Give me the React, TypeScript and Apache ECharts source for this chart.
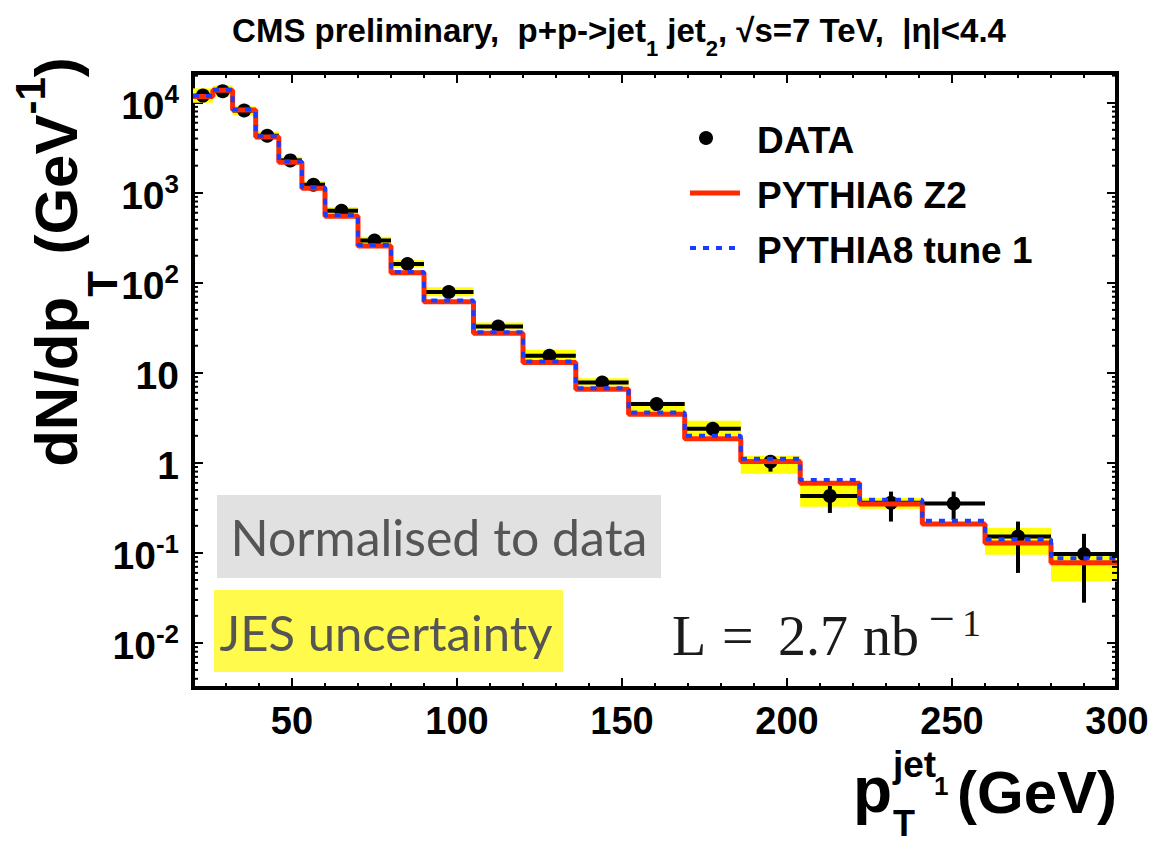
import React, { useEffect, useRef } from "react";
import * as echarts from "echarts";

// ---- data ----
const binEdges = [20, 26, 32, 39, 46, 53, 60, 70, 80, 90, 105, 120, 136, 152, 169, 186, 204, 222, 241, 260, 280, 300];
const dataValues = [12000, 13400, 8200, 4300, 2290, 1230, 630, 295, 162, 79, 32.7, 15.5, 7.8, 4.5, 2.39, 1.03, 0.43, 0.36, 0.355, 0.152, 0.097];
const dataErrLow = [11900, 13300, 8150, 4270, 2270, 1215, 620, 290, 158, 77, 31.5, 14.9, 7.4, 4.2, 2.2, 0.8, 0.278, 0.223, 0.232, 0.06, 0.028];
const dataErrHigh = [12100, 13500, 8250, 4330, 2310, 1245, 640, 300, 166, 81, 33.9, 16.1, 8.2, 4.8, 2.6, 1.22, 0.555, 0.48, 0.48, 0.223, 0.163];
const jesLow = [10000, 11750, 7240, 3890, 2090, 1120, 575, 269, 148, 70.8, 30.2, 14.0, 7.05, 3.63, 1.99, 0.757, 0.326, 0.309, 0.339, 0.0955, 0.048];
const jesHigh = [14450, 15500, 9120, 4790, 2510, 1350, 692, 324, 178, 89, 36.3, 18.1, 8.7, 4.79, 2.94, 1.197, 0.553, 0.407, 0.372, 0.19, 0.095];
const pythia6 = [11750, 13800, 8300, 4170, 2190, 1120, 550, 257, 129, 61.7, 27.5, 13.0, 6.58, 3.47, 1.85, 1.035, 0.594, 0.35, 0.209, 0.129, 0.078];
const pythia8 = [11900, 13900, 8400, 4250, 2230, 1150, 565, 263, 132, 63.5, 28.2, 13.4, 6.75, 3.62, 2.0, 1.11, 0.645, 0.39, 0.227, 0.142, 0.087];

const seriesNames = ["DATA", "PYTHIA6 Z2", "PYTHIA8 tune 1"];

const xMin = 20;
const xMax = 300;
const yMin = 0.00316;
const yMax = 21400;
const yTickExps = [-2, -1, 0, 1, 2, 3, 4];
const yTickBases = ["10", "10", "1", "10", "10", "10", "10"];
const yTickSups = ["-2", "-1", "", "", "2", "3", "4"];
const yMinorMantissas = [2, 3, 4, 5, 6, 7, 8, 9];
const yMinorDecades = [-3, -2, -1, 0, 1, 2, 3, 4];

const FONT = "'Liberation Sans', Arial, Helvetica, sans-serif";
const SERIF = "'Liberation Serif', 'DejaVu Serif', serif";
const HUMAN = "Lato, 'Open Sans', sans-serif";
const RED = "#ff2a00";
const BLUE = "#1a3cff";

let measureCtx: CanvasRenderingContext2D | null = null;
function measure(text: string, size: number, family: string, weight: string) {
  if (!measureCtx) measureCtx = document.createElement("canvas").getContext("2d");
  if (!measureCtx) return text.length * size * 0.55;
  measureCtx.font = `${weight} ${size}px ${family}`;
  return measureCtx.measureText(text).width;
}

type Seg = { t: string; size: number; dy: number; gap?: boolean };

// lay out a run of segments on a common baseline (baseY), starting at x0
function layoutRun(segs: Seg[], family: string, weight: string, x0: number, baseY: number) {
  const els: any[] = [];
  let x = x0;
  segs.forEach((s) => {
    const w = measure(s.t, s.size, family, weight);
    if (!s.gap) {
      els.push({
        type: "text",
        x,
        y: baseY + s.dy - 0.3465 * s.size,
        style: {
          text: s.t,
          fontFamily: family,
          fontSize: s.size,
          fontWeight: weight,
          fill: "#000",
          align: "left",
          verticalAlign: "middle",
          textAlign: "left",
          textVerticalAlign: "middle",
        },
      });
    }
    x += w;
  });
  return { els, width: x - x0 };
}
function runWidth(segs: Seg[], family: string, weight: string) {
  return segs.reduce((a, s) => a + measure(s.t, s.size, family, weight), 0);
}

// a single text placed by its baseline
function baselineText(t: string, x: number, base: number, size: number, family: string, weight: string, fill: string, k = 0.3465) {
  return {
    type: "text",
    x,
    y: base - k * size,
    style: {
      text: t,
      fontFamily: family,
      fontSize: size,
      fontWeight: weight,
      fill,
      align: "left",
      verticalAlign: "middle",
      textAlign: "left",
      textVerticalAlign: "middle",
    },
  };
}

function stepPoints(vals: number[]) {
  const pts: number[][] = vals.map((v, i) => [binEdges[i], v]);
  pts.push([binEdges[binEdges.length - 1], vals[vals.length - 1]]);
  return pts;
}

function buildOption() {
  const nb = dataValues.length;
  const bandData = [];
  const errData = [];
  const markerData = [];
  for (let i = 0; i < nb; i++) {
    const c = (binEdges[i] + binEdges[i + 1]) / 2;
    bandData.push([binEdges[i], binEdges[i + 1], jesLow[i], jesHigh[i]]);
    errData.push([binEdges[i], binEdges[i + 1], c, dataValues[i], dataErrLow[i], dataErrHigh[i]]);
    markerData.push([c, dataValues[i]]);
  }
  const minorData: number[][] = [];
  yMinorDecades.forEach((d) =>
    yMinorMantissas.forEach((m) => {
      const v = m * Math.pow(10, d);
      if (v > yMin && v < yMax) minorData.push([xMin, v]);
    })
  );

  // ---- title ----
  const TS = 33;
  const SS = 22;
  const titleSegs: Seg[] = [
    { t: "CMS preliminary,", size: TS, dy: 0 },
    { t: "  ", size: TS, dy: 0, gap: true },
    { t: "p+p->jet", size: TS, dy: 0 },
    { t: "1", size: SS, dy: 14 },
    { t: " ", size: TS, dy: 0, gap: true },
    { t: "jet", size: TS, dy: 0 },
    { t: "2", size: SS, dy: 14 },
    { t: ",", size: TS, dy: 0 },
    { t: " ", size: TS, dy: 0, gap: true },
    { t: "√s=7 TeV,", size: TS, dy: 0 },
    { t: "  ", size: TS, dy: 0, gap: true },
    { t: "|η|<4.4", size: TS, dy: 0 },
  ];
  const tW = runWidth(titleSegs, FONT, "bold");
  const title = layoutRun(titleSegs, FONT, "bold", 619 - tW / 2, 42);

  // ---- y axis title (rotated) ----
  const ySegs: Seg[] = [
    { t: "dN/dp", size: 60, dy: 0 },
    { t: "T", size: 42, dy: 40 },
    { t: " ", size: 60, dy: 0, gap: true },
    { t: "(GeV", size: 60, dy: 0 },
    { t: "-1", size: 42, dy: -32 },
    { t: ")", size: 60, dy: 0 },
  ];
  const yW = runWidth(ySegs, FONT, "bold");
  const yTitle = layoutRun(ySegs, FONT, "bold", -yW / 2, 0);

  // ---- legend (drawn) ----
  const legendText = (name: string, y: number) => ({
    type: "text",
    x: 757,
    y,
    z: 20,
    style: {
      text: name,
      fontFamily: FONT,
      fontSize: 37,
      fontWeight: "bold",
      fill: "#000",
      align: "left",
      verticalAlign: "middle",
      textAlign: "left",
      textVerticalAlign: "middle",
    },
  });

  const xAxisCommon = {
    type: "value",
    min: xMin,
    max: xMax,
    splitNumber: 5,
    axisLine: { show: false },
    splitLine: { show: false },
    axisTick: { show: true, inside: true, length: 10, lineStyle: { color: "#000", width: 2 } },
    minorTick: { show: true, splitNumber: 5, length: 5, lineStyle: { color: "#000", width: 2 } },
  };
  const yAxisCommon = {
    type: "log",
    logBase: 10,
    min: yMin,
    max: yMax,
    axisLine: { show: false },
    splitLine: { show: false },
    minorTick: { show: false },
    axisTick: { show: true, inside: true, length: 10, lineStyle: { color: "#000", width: 2 } },
  };

  return {
    animation: false,
    backgroundColor: "#fff",
    textStyle: { fontFamily: FONT },
    grid: {
      left: 193,
      right: 40,
      top: 73,
      bottom: 157,
      show: true,
      borderColor: "#000",
      borderWidth: 4,
      backgroundColor: "transparent",
    },
    xAxis: [
      {
        ...xAxisCommon,
        position: "bottom",
        axisLabel: {
          show: true,
          showMinLabel: false,
          margin: 14,
          fontFamily: FONT,
          fontSize: 38,
          fontWeight: "bold",
          color: "#000",
        },
      },
      { ...xAxisCommon, position: "top", axisLabel: { show: false } },
    ],
    yAxis: [
      {
        ...yAxisCommon,
        position: "left",
        axisLabel: {
          show: true,
          showMinLabel: false,
          showMaxLabel: false,
          margin: 14,
          color: "#000",
          formatter: (v: number) => {
            const e = Math.round(Math.log10(v));
            const i = yTickExps.indexOf(e);
            if (i < 0) return "";
            return "{b|" + yTickBases[i] + "}" + (yTickSups[i] ? "{sup|" + yTickSups[i] + "}" : "");
          },
          rich: {
            b: { fontFamily: FONT, fontSize: 39, fontWeight: "bold", color: "#000", lineHeight: 44, verticalAlign: "bottom" },
            sup: { fontFamily: FONT, fontSize: 26, fontWeight: "bold", color: "#000", lineHeight: 18, verticalAlign: "top" },
          },
        },
      },
      { ...yAxisCommon, position: "right", axisLabel: { show: false } },
    ],
    series: [
      {
        type: "custom",
        name: "JES uncertainty",
        z: 1,
        silent: true,
        encode: { x: [0, 1], y: [2, 3] },
        data: bandData,
        renderItem: (params: any, api: any) => {
          const a = api.coord([api.value(0), api.value(3)]);
          const b = api.coord([api.value(1), api.value(2)]);
          return {
            type: "rect",
            shape: { x: a[0], y: a[1], width: b[0] - a[0], height: b[1] - a[1] },
            style: { fill: "#ffff00" },
          };
        },
      },
      {
        type: "custom",
        name: "DATA errors",
        z: 2,
        silent: true,
        encode: { x: [0, 1], y: [3, 4, 5] },
        data: errData,
        renderItem: (params: any, api: any) => {
          const pl = api.coord([api.value(0), api.value(3)]);
          const pr = api.coord([api.value(1), api.value(3)]);
          const pt = api.coord([api.value(2), api.value(5)]);
          const pb = api.coord([api.value(2), api.value(4)]);
          return {
            type: "group",
            children: [
              { type: "line", shape: { x1: pl[0], y1: pl[1], x2: pr[0], y2: pr[1] }, style: { stroke: "#000", lineWidth: 4 } },
              { type: "line", shape: { x1: pt[0], y1: pt[1], x2: pb[0], y2: pb[1] }, style: { stroke: "#000", lineWidth: 4 } },
            ],
          };
        },
      },
      {
        type: "scatter",
        name: seriesNames[0],
        z: 3,
        symbol: "circle",
        symbolSize: 14,
        itemStyle: { color: "#000", opacity: 1 },
        data: markerData,
      },
      {
        type: "line",
        name: seriesNames[1],
        z: 4,
        step: "end",
        symbol: "none",
        showSymbol: false,
        lineStyle: { color: RED, width: 5 },
        itemStyle: { color: RED },
        data: stepPoints(pythia6),
      },
      {
        type: "line",
        name: seriesNames[2],
        z: 5,
        step: "end",
        symbol: "none",
        showSymbol: false,
        lineStyle: { color: BLUE, width: 4, type: [6, 7] },
        itemStyle: { color: BLUE },
        data: stepPoints(pythia8),
      },
      {
        type: "custom",
        name: "yMinorTicks",
        z: 6,
        silent: true,
        encode: { x: 0, y: 1 },
        data: minorData,
        renderItem: (params: any, api: any) => {
          const l = api.coord([xMin, api.value(1)]);
          const r = api.coord([xMax, api.value(1)]);
          return {
            type: "group",
            children: [
              { type: "line", shape: { x1: l[0], y1: l[1], x2: l[0] + 5, y2: l[1] }, style: { stroke: "#000", lineWidth: 2 } },
              { type: "line", shape: { x1: r[0], y1: r[1], x2: r[0] - 5, y2: r[1] }, style: { stroke: "#000", lineWidth: 2 } },
            ],
          };
        },
      },
    ],
    graphic: [
      { type: "group", children: title.els },
      { type: "group", x: 77, y: 262, rotation: Math.PI / 2, children: yTitle.els },
      // x axis title: p_T^{jet_1} (GeV)
      {
        type: "group",
        children: [
          baselineText("p", 853, 812, 64, FONT, "bold", "#000"),
          baselineText("T", 893, 836, 36, FONT, "bold", "#000"),
          baselineText("jet", 893, 777, 37, FONT, "bold", "#000"),
          baselineText("1", 934, 795, 26, FONT, "bold", "#000"),
          baselineText("(GeV)", 957, 813, 60, FONT, "bold", "#000"),
        ],
      },
      // legend
      { type: "circle", z: 20, shape: { cx: 706, cy: 138, r: 7 }, style: { fill: "#000" } },
      legendText(seriesNames[0], 140),
      { type: "line", z: 20, shape: { x1: 690, y1: 193, x2: 740, y2: 193 }, style: { stroke: RED, lineWidth: 5 } },
      legendText(seriesNames[1], 195),
      { type: "line", z: 20, shape: { x1: 690, y1: 248, x2: 736, y2: 248 }, style: { stroke: BLUE, lineWidth: 4, lineDash: [6, 7] } },
      legendText(seriesNames[2], 250),
      // boxes
      { type: "rect", z: 10, shape: { x: 217, y: 495, width: 444, height: 83 }, style: { fill: "#e1e1e1" } },
      {
        type: "text",
        x: 439,
        y: 537,
        z: 11,
        style: { text: "Normalised to data", fontFamily: HUMAN, fontSize: 50, fill: "#555", align: "center", verticalAlign: "middle", textAlign: "center", textVerticalAlign: "middle" },
      },
      { type: "rect", z: 10, shape: { x: 214, y: 590, width: 349, height: 82 }, style: { fill: "#fffa4c" } },
      {
        type: "text",
        x: 386,
        y: 632,
        z: 11,
        style: { text: "JES uncertainty", fontFamily: HUMAN, fontSize: 49, fill: "#555", align: "center", verticalAlign: "middle", textAlign: "center", textVerticalAlign: "middle" },
      },
      // luminosity  L = 2.7 nb^-1
      {
        type: "group",
        z: 11,
        children: [
          baselineText("L", 672, 655, 56, SERIF, "normal", "#1a1a1a", 0.339),
          baselineText("=", 722, 655, 56, SERIF, "normal", "#1a1a1a", 0.339),
          baselineText("2.7", 778, 655, 56, SERIF, "normal", "#1a1a1a", 0.339),
          baselineText("nb", 863, 655, 56, SERIF, "normal", "#1a1a1a", 0.339),
          baselineText("−", 929, 634, 46, SERIF, "normal", "#1a1a1a", 0.339),
          baselineText("1", 962, 636, 38, SERIF, "normal", "#1a1a1a", 0.339),
        ],
      },
    ],
  };
}

export default function App() {
  const ref = useRef<HTMLDivElement>(null);
  useEffect(() => {
    if (!ref.current) return;
    const chart = echarts.init(ref.current, undefined, { renderer: "svg" });
    chart.setOption(buildOption() as any);
    return () => chart.dispose();
  }, []);
  return (
    <div
      ref={ref}
      style={{ position: "absolute", left: 0, top: 0, width: 1157, height: 845, background: "#fff" }}
    />
  );
}
